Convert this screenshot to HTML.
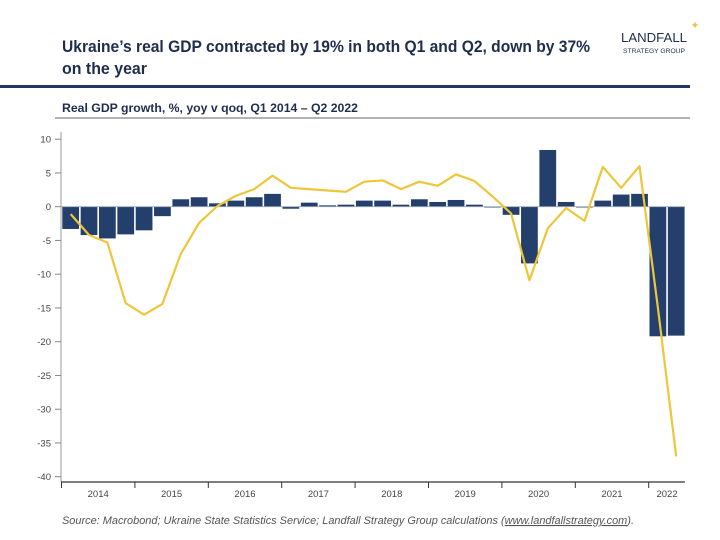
<!DOCTYPE html>
<html><head><meta charset="utf-8"><style>
html,body{margin:0;padding:0;background:#fff;width:720px;height:540px;overflow:hidden}
svg{display:block;font-family:"Liberation Sans",sans-serif}
</style></head><body>
<svg id="chart" width="720" height="540" viewBox="0 0 720 540">
  <text x="62" y="52" font-size="17" font-weight="bold" fill="#1f2d4d" textLength="528" lengthAdjust="spacingAndGlyphs">Ukraine’s real GDP contracted by 19% in both Q1 and Q2, down by 37%</text>
  <text x="62" y="74" font-size="17" font-weight="bold" fill="#1f2d4d" textLength="85" lengthAdjust="spacingAndGlyphs">on the year</text>
  <g>
    <text x="621" y="42" font-size="13" fill="#1f2d4d" textLength="66" lengthAdjust="spacingAndGlyphs">LANDFALL</text>
    <text x="623" y="53" font-size="6.5" fill="#1f2d4d" textLength="62" lengthAdjust="spacingAndGlyphs">STRATEGY GROUP</text>
    <text x="695" y="29" font-size="11" fill="#e8c547" text-anchor="middle">✦</text>
  </g>
  <rect x="0" y="85" width="690" height="3" fill="#1f3864"/>
  <text x="62" y="112" font-size="12" font-weight="bold" fill="#1f2d4d" textLength="296" lengthAdjust="spacingAndGlyphs">Real GDP growth, %, yoy v qoq, Q1 2014 – Q2 2022</text>
  <rect x="55" y="117.5" width="635" height="1" fill="#666"/>
  <g id="plot"></g>
  <text x="62" y="524" font-size="11" font-style="italic" fill="#555" textLength="572" lengthAdjust="spacingAndGlyphs">Source: Macrobond; Ukraine State Statistics Service; Landfall Strategy Group calculations (<tspan text-decoration="underline">www.landfallstrategy.com</tspan>).</text>
</svg>
<script>
const years = ["2014","2015","2016","2017","2018","2019","2020","2021","2022"];
const qoqValues = [-3.3,-4.2,-4.7,-4.1, -3.5,-1.4,1.1,1.4, 0.5,0.9,1.4,1.9, -0.3,0.6,0.2,0.3, 0.9,0.9,0.3,1.1, 0.7,1.0,0.3,0.0, -1.2,-8.4,8.4,0.7, -0.1,0.9,1.8,1.9, -19.2,-19.1];
const yoyValues = [-1.1,-4.2,-5.3,-14.3, -16.0,-14.4,-7.0,-2.4, 0.1,1.6,2.6,4.6, 2.8,2.6,2.4,2.2, 3.7,3.9,2.6,3.7, 3.1,4.8,3.8,1.5, -1.0,-10.9,-3.2,-0.2, -2.1,5.9,2.8,6.0, -15.0,-37.0];
const yTicks = [10,5,0,-5,-10,-15,-20,-25,-30,-35,-40];

const NS = "http://www.w3.org/2000/svg";
const plot = document.getElementById("plot");
const x0 = 61.5, step = 18.35, yZero = 206.7, pxPerUnit = 6.75;
const yScale = v => yZero - v * pxPerUnit;
const xBand = i => x0 + step * i;
const xCenter = i => x0 + step * (i + 0.5);
function mk(tag, attrs){ const e = document.createElementNS(NS, tag); for (const k in attrs) e.setAttribute(k, attrs[k]); plot.appendChild(e); return e; }

let ya = mk("line",{x1:61,y1:132,x2:61,y2:482,stroke:"#aaa","stroke-width":1.2});


yTicks.forEach(v => {
  const y = yScale(v);
  const t = mk("line",{x1:55,y1:y,x2:61,y2:y,stroke:"#888","stroke-width":1});
  
  
  const l = mk("text",{x:51,y:y+3.5,"font-size":9.5,fill:"#444","text-anchor":"end"});
  l.textContent = v;
  
  
});

qoqValues.forEach((v,i) => {
  const y1 = yScale(Math.max(v,0)), y2 = yScale(Math.min(v,0));
  const r = mk("rect",{x:xBand(i)+0.8,y:y1,width:step-1.6,height:Math.max(y2-y1,0.8),fill:"#243f6b"});
  
  
});
let zl = mk("line",{x1:61,y1:yZero,x2:685,y2:yZero,stroke:"#9aa6b8","stroke-width":0.8});



const pts = yoyValues.map((v,i) => xCenter(i).toFixed(1)+","+yScale(v).toFixed(1)).join(" ");
const pl = mk("polyline",{points:pts,fill:"none",stroke:"#eec63a","stroke-width":2.2,"stroke-linejoin":"round"});



let xa = mk("line",{x1:61,y1:482,x2:685,y2:482,stroke:"#333","stroke-width":1.2});


years.forEach((yr,k) => {
  const start = k*4, n = Math.min(4, qoqValues.length - start);
  const tx = xBand(start);
  const t = mk("line",{x1:tx,y1:482,x2:tx,y2:488,stroke:"#333","stroke-width":1});
  
  
  const l = mk("text",{x:xBand(start)+step*n/2,y:497,"font-size":9.5,fill:"#444","text-anchor":"middle"});
  l.textContent = yr;
  
  
});
</script>
</body></html>
